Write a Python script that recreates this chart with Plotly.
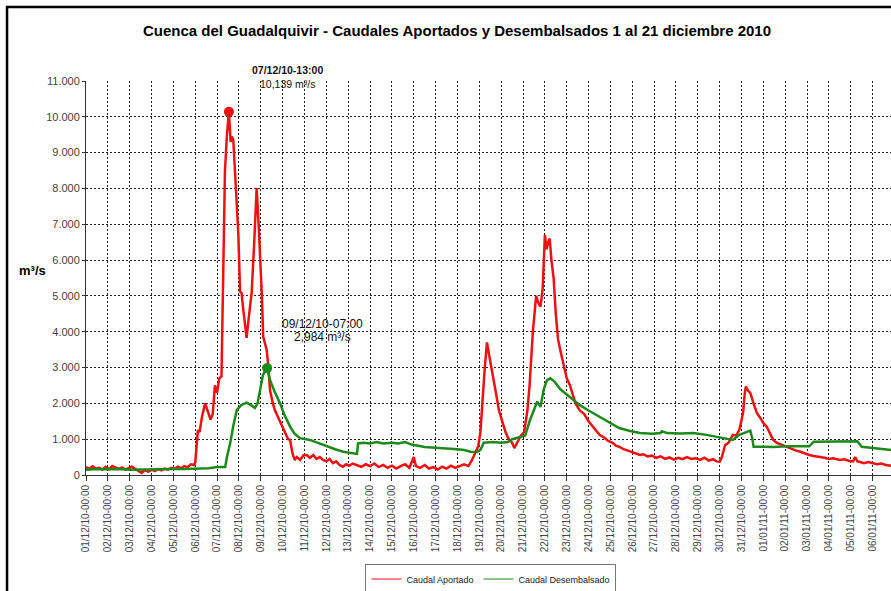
import plotly.graph_objects as go

# ---- data (x = days since 01/12/2010 00:00) ----
aportado_x = [0.0,0.15,0.3,0.45,0.6,0.75,0.9,1.05,1.2,1.35,1.5,1.65,1.8,1.95,2.1,2.25,2.4,2.55,2.7,2.85,
              3.0,3.15,3.3,3.45,3.6,3.75,3.9,4.05,4.2,4.35,4.5,4.65,4.8,4.95,5.0,5.05,5.12,5.2,5.3,5.45,
              5.55,5.7,5.8,5.9,6.0,6.1,6.2,6.3,6.36,6.45,6.54,6.62,6.67,6.74,6.85,6.97,7.05,7.12,7.2,7.28,
              7.35,7.45,7.58,7.7,7.81,7.9,7.96,8.05,8.11,8.2,8.27,8.35,8.42,8.55,8.65,8.8,8.95,9.1,9.25,9.34,
              9.45,9.55,9.65,9.8,9.95,10.1,10.25,10.4,10.55,10.7,10.85,11.0,11.15,11.3,11.45,11.6,11.76,11.9,12.05,12.2,
              12.4,12.6,12.8,13.0,13.2,13.4,13.6,13.8,14.0,14.2,14.4,14.6,14.8,15.0,15.1,15.3,15.5,15.7,15.9,16.1,
              16.3,16.5,16.7,16.9,17.1,17.3,17.5,17.65,17.8,17.95,18.05,18.15,18.25,18.35,18.45,18.55,18.7,18.8,18.9,19.05,
              19.2,19.35,19.5,19.6,19.75,19.9,20.05,20.2,20.3,20.45,20.6,20.7,20.8,20.9,21.0,21.08,21.15,21.22,21.3,21.4,
              21.5,21.6,21.7,21.8,21.9,22.0,22.15,22.3,22.4,22.6,22.8,23.0,23.2,23.35,23.5,23.7,23.9,24.1,24.25,24.4,
              24.6,24.8,25.0,25.2,25.35,25.5,25.7,25.9,26.1,26.3,26.5,26.7,26.9,27.1,27.3,27.5,27.7,27.9,28.1,28.3,
              28.5,28.7,28.85,29.0,29.1,29.25,29.4,29.6,29.75,29.9,30.07,30.15,30.2,30.3,30.4,30.55,30.7,30.85,31.0,31.15,
              31.3,31.45,31.6,31.8,32.0,32.1,32.3,32.5,32.7,32.9,33.1,33.3,33.6,33.8,34.0,34.2,34.5,34.7,34.9,35.1,
              35.2,35.3,35.4,35.6,35.8,36.0,36.2,36.4,36.6,36.84]
aportado_y = [220,170,240,180,200,150,230,160,250,200,170,210,150,190,230,170,120,60,140,90,
              150,110,170,130,180,150,200,170,230,190,250,220,300,280,350,700,1250,1200,1600,2000,
              1800,1550,1700,2500,2300,2700,2750,6000,8500,9500,10139,9300,9450,9360,8000,6750,5120,5080,4600,4240,
              3830,4400,5080,6500,8010,7000,6280,5000,3860,3600,3490,3000,2370,2000,1800,1600,1400,1200,1000,980,
              600,420,500,420,550,560,480,560,450,500,420,380,450,330,380,280,230,300,260,320,
              280,230,300,250,320,220,280,200,260,180,250,300,200,500,250,200,280,180,220,150,
              230,180,260,200,250,300,250,400,600,800,1200,2200,3000,3700,3400,3000,2500,2100,1800,1500,
              1200,1000,900,750,950,1100,1200,1800,2500,4000,5000,4800,4700,5200,6700,6300,6500,6600,6000,5500,
              4500,3800,3500,3200,3000,2700,2500,2200,2000,1800,1700,1500,1350,1250,1120,1050,950,900,820,790,
              720,680,640,600,560,580,520,540,480,520,450,490,430,480,440,500,450,470,420,480,
              400,440,380,370,500,840,900,1120,1100,1260,1730,2300,2470,2350,2290,2000,1730,1600,1450,1350,
              1150,980,900,850,800,790,720,680,650,600,560,530,510,480,450,470,420,440,400,380,
              500,380,370,330,360,320,300,320,280,260]

desemb_x = [0,0.5,1,1.5,2,2.5,3,3.5,4,4.5,5,5.3,5.6,6.0,6.3,6.37,6.45,6.6,6.75,6.9,
            7.1,7.35,7.55,7.73,7.85,7.96,8.1,8.29,8.42,8.65,8.88,9.1,9.34,9.55,9.8,10.25,10.6,11.0,11.4,11.77,
            12.1,12.4,12.45,12.7,13.0,13.3,13.6,14.0,14.3,14.6,14.9,15.1,15.5,16.0,16.5,17.0,17.3,17.6,17.9,18.05,
            18.2,18.6,19.0,19.3,19.5,19.8,20.1,20.3,20.5,20.65,20.8,20.95,21.1,21.25,21.45,21.7,22.0,22.3,22.6,23.0,
            23.5,24.0,24.4,24.9,25.35,25.9,26.3,26.35,26.6,27.2,27.8,28.4,28.9,29.3,29.6,29.9,30.15,30.4,30.5,30.55,
            31.0,31.45,32.1,32.7,33.1,33.3,33.45,34.2,34.6,35.0,35.3,35.5,36.0,36.5,36.84]
desemb_y = [150,170,160,170,150,160,150,160,170,170,180,200,190,220,230,220,500,890,1400,1810,
            1950,2020,1950,1870,2000,2400,2800,2984,2650,2300,2000,1650,1350,1150,1030,980,900,790,720,650,
            620,590,880,900,880,920,880,900,880,920,850,820,780,760,750,720,700,650,640,700,
            900,920,900,920,1000,1050,1100,1500,1800,2050,1900,2400,2650,2700,2600,2400,2250,2100,1950,1800,
            1630,1450,1310,1230,1170,1150,1170,1220,1170,1160,1170,1120,1070,1020,980,1120,1180,1240,1000,790,
            790,780,800,790,800,930,930,930,950,940,940,790,750,720,700]

peak_aportado = (6.54, 10139)
peak_desemb = (8.29, 2984)

x_tickvals = list(range(37))
x_ticktext = ["01/12/10-00:00","02/12/10-00:00","03/12/10-00:00","04/12/10-00:00","05/12/10-00:00",
              "06/12/10-00:00","07/12/10-00:00","08/12/10-00:00","09/12/10-00:00","10/12/10-00:00",
              "11/12/10-00:00","12/12/10-00:00","13/12/10-00:00","14/12/10-00:00","15/12/10-00:00",
              "16/12/10-00:00","17/12/10-00:00","18/12/10-00:00","19/12/10-00:00","20/12/10-00:00",
              "21/12/10-00:00","22/12/10-00:00","23/12/10-00:00","24/12/10-00:00","25/12/10-00:00",
              "26/12/10-00:00","27/12/10-00:00","28/12/10-00:00","29/12/10-00:00","30/12/10-00:00",
              "31/12/10-00:00","01/01/11-00:00","02/01/11-00:00","03/01/11-00:00","04/01/11-00:00",
              "05/01/11-00:00","06/01/11-00:00"]
y_tickvals = [0,1000,2000,3000,4000,5000,6000,7000,8000,9000,10000,11000]
y_ticktext = ["0","1.000","2.000","3.000","4.000","5.000","6.000","7.000","8.000","9.000","10.000","11.000"]

RED = "#ee1111"
GREEN = "#1b8a1b"
FONT = "Arial, Liberation Sans, sans-serif"

fig = go.Figure()
fig.add_trace(go.Scatter(x=aportado_x, y=aportado_y, mode="lines", line=dict(color=RED, width=2.5),
                         showlegend=False, hoverinfo="skip"))
fig.add_trace(go.Scatter(x=desemb_x, y=desemb_y, mode="lines", line=dict(color=GREEN, width=2.5),
                         showlegend=False, hoverinfo="skip"))
fig.add_trace(go.Scatter(x=[peak_aportado[0]], y=[peak_aportado[1]], mode="markers",
                         marker=dict(color=RED, size=10), showlegend=False))
fig.add_trace(go.Scatter(x=[peak_desemb[0]], y=[peak_desemb[1]], mode="markers",
                         marker=dict(color=GREEN, size=10), showlegend=False))
# legend entries (thin lines)
fig.add_trace(go.Scatter(x=[None], y=[None], mode="lines", line=dict(color=RED, width=1),
                         name="Caudal Aportado"))
fig.add_trace(go.Scatter(x=[None], y=[None], mode="lines", line=dict(color=GREEN, width=1),
                         name="Caudal Desembalsado"))

grid = dict(showgrid=True, gridcolor="#222222", gridwidth=1, griddash="2px,2px")

fig.update_layout(
    width=891, height=591,
    margin=dict(l=86, r=0, t=81, b=116, autoexpand=False),
    paper_bgcolor="white", plot_bgcolor="white",
    font=dict(family=FONT, size=10, color="#333333"),
    xaxis=dict(range=[0, 36.84], tickmode="array", tickvals=x_tickvals, ticktext=x_ticktext,
               tickangle=-90, ticks="outside", ticklen=5, tickcolor="#333333",
               showline=True, linecolor="#333333", linewidth=1, zeroline=False,
               tickfont=dict(family=FONT, size=10, color="#444444"), **grid),
    yaxis=dict(range=[0, 11000], tickmode="array", tickvals=y_tickvals, ticktext=y_ticktext,
               ticks="outside", ticklen=3, tickcolor="#333333",
               showline=True, linecolor="#333333", linewidth=1, zeroline=False,
               tickfont=dict(family=FONT, size=11, color="#444444"), **grid),
    legend=dict(orientation="h", x=0.503, xanchor="center", y=-0.264, yanchor="middle",
                bordercolor="#777777", borderwidth=1, bgcolor="white",
                font=dict(family=FONT, size=9, color="#222222"), itemwidth=30),
    showlegend=True,
)

# chart-area border (cropped on right/bottom)
fig.add_shape(type="rect", xref="paper", yref="paper", x0=-0.0981, x1=1.05, y0=-0.35, y1=1.1878,
              line=dict(color="black", width=2.5), fillcolor="rgba(0,0,0,0)", layer="above")

annots = [
    dict(text="<b>Cuenca del Guadalquivir - Caudales Aportados y Desembalsados 1 al 21 diciembre 2010</b>",
         x=0.461, y=1.127, size=15, color="black"),
    dict(text="<b>m³/s</b>", x=-0.067, y=0.52, size=13, color="black"),
    dict(text="<b>07/12/10-13:00</b>", x=0.2497, y=1.028, size=10.5, color="#111111"),
    dict(text="10,139 m³/s", x=0.2497, y=0.993, size=10.5, color="#111111"),
    dict(text="09/12/10-07:00", x=0.294, y=0.383, size=12, color="#111111"),
    dict(text="2,984 m³/s", x=0.294, y=0.350, size=12, color="#111111"),
]
for a in annots:
    fig.add_annotation(text=a["text"], x=a["x"], y=a["y"], xref="paper", yref="paper",
                       showarrow=False, xanchor="center", yanchor="middle",
                       font=dict(family=FONT, size=a["size"], color=a["color"]))

fig.write_html("out.html", config={"displayModeBar": False},
               post_script="document.body.style.margin='0';document.body.style.overflow='hidden';")
